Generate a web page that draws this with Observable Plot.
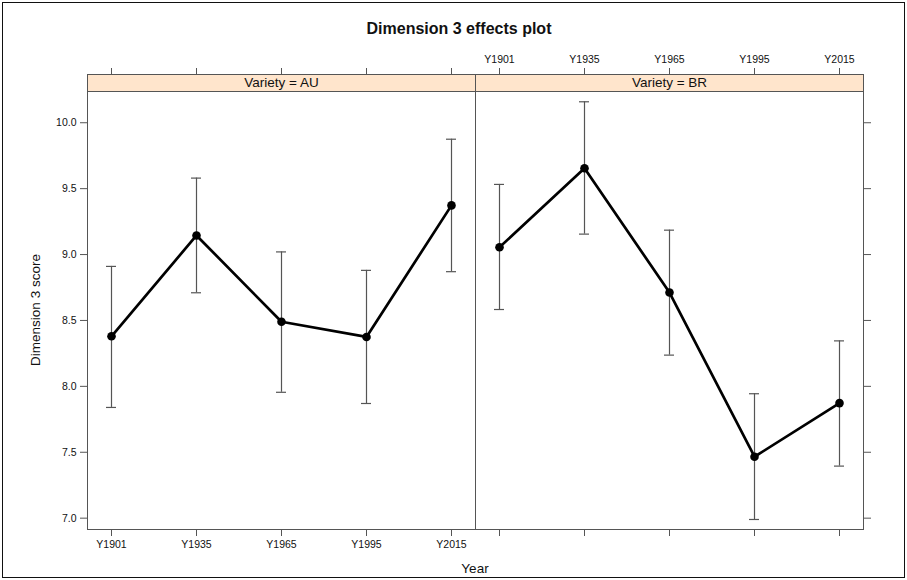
<!DOCTYPE html>
<html>
<head>
<meta charset="utf-8">
<script src="https://cdn.jsdelivr.net/npm/d3@7"></script>
<script src="https://cdn.jsdelivr.net/npm/@observablehq/plot@0.6"></script>
<style>
  html, body { margin: 0; padding: 0; background: white; }
  #wrap { position: relative; width: 907px; height: 580px; font-family: "Liberation Sans", Arial, sans-serif; color: #111; overflow: hidden; }
  #wrap svg { position: absolute; left: 0; top: 0; }
  #border { position: absolute; left: 2px; top: 2px; width: 903px; height: 576px; box-sizing: border-box; border: 1.5px solid #111; pointer-events: none; }
  .title { position: absolute; left: 0; width: 918px; top: 20px; text-align: center; font-weight: bold; font-size: 16px; }
  .xlab { position: absolute; left: 375px; width: 200px; top: 561px; text-align: center; font-size: 13.5px; }
  .ylab { position: absolute; left: 35px; top: 310px; transform: translate(-50%, -50%) rotate(-90deg); white-space: nowrap; font-size: 13.5px; }
</style>
</head>
<body>
<div id="wrap">
  <div class="title">Dimension 3 effects plot</div>
  <div class="xlab">Year</div>
  <div class="ylab">Dimension 3 score</div>
  <div id="border"></div>
</div>
<script>
// ---- data ----
const varieties = ["AU", "BR"];
const years = ["Y1901", "Y1935", "Y1965", "Y1995", "Y2015"];
const fitAU   = [8.38, 9.145, 8.49, 8.375, 9.373];
const lowerAU = [7.84, 8.71, 7.955, 7.87, 8.87];
const upperAU = [8.91, 9.58, 9.02, 8.88, 9.875];
const fitBR   = [9.055, 9.655, 8.712, 7.466, 7.873];
const lowerBR = [8.583, 9.155, 8.237, 6.99, 7.395];
const upperBR = [9.532, 10.159, 9.185, 7.944, 8.345];
const yTicks = [7.0, 7.5, 8.0, 8.5, 9.0, 9.5, 10.0];
const yDomain = [6.914, 10.237];

const series = {AU: {fit: fitAU, lower: lowerAU, upper: upperAU},
                BR: {fit: fitBR, lower: lowerBR, upper: upperBR}};
const data = varieties.flatMap(v => years.map((y, i) => ({
  variety: v, year: y, fit: series[v].fit[i], lower: series[v].lower[i], upper: series[v].upper[i]
})));

// ---- layout ----
const W = 907, H = 580;
const mTop = 91, mBottom = 51, mLeft = 87, mRight = 44;
const panelH = H - mTop - mBottom;
const stripH = 17;
const gray = "#555";
const fs = 10.5;

const chart = Plot.plot({
  width: W, height: H,
  marginTop: mTop, marginBottom: mBottom, marginLeft: mLeft, marginRight: mRight,
  style: {fontFamily: "Liberation Sans, Arial, sans-serif", fontSize: fs + "px", color: "#111", background: "transparent"},
  fx: {domain: varieties, padding: 0, axis: null},
  x: {domain: years, type: "band", paddingInner: 0.883, paddingOuter: 0.2105, axis: null},
  y: {domain: yDomain, axis: null},
  marks: [
    Plot.frame({stroke: gray}),
    Plot.frame({fill: "#ffe5cc", stroke: gray, insetTop: -stripH, insetBottom: panelH}),
    Plot.text(varieties, {fx: d => d, text: d => `Variety = ${d}`, frameAnchor: "top", lineAnchor: "middle", dy: -stripH / 2, fontSize: 13.5, fill: "#111"}),
    // axes
    Plot.axisY(yTicks, {anchor: "left", facetAnchor: "left", tickSize: 7, tickPadding: 4, tickFormat: d3.format(".1f"), stroke: gray, label: null}),
    Plot.axisY(yTicks, {anchor: "right", facetAnchor: "right", tickSize: 7, tickFormat: () => "", stroke: gray, label: null}),
    Plot.axisX({anchor: "bottom", facetAnchor: "left", tickSize: 7, tickPadding: 4, stroke: gray, label: null}),
    Plot.axisX({anchor: "bottom", facetAnchor: "right", tickSize: 7, tickFormat: () => "", stroke: gray, label: null}),
    Plot.axisX({anchor: "top", facetAnchor: "right", dy: -stripH, tickSize: 7, tickPadding: 5, stroke: gray, label: null}),
    Plot.axisX({anchor: "top", facetAnchor: "left", dy: -stripH, tickSize: 7, tickFormat: () => "", stroke: gray, label: null}),
    // error bars
    Plot.ruleX(data, {fx: "variety", x: "year", y1: "lower", y2: "upper", stroke: gray, strokeWidth: 1.2}),
    Plot.tickY(data, {fx: "variety", x: "year", y: "upper", stroke: gray, strokeWidth: 1.2}),
    Plot.tickY(data, {fx: "variety", x: "year", y: "lower", stroke: gray, strokeWidth: 1.2}),
    // effect line
    Plot.line(data, {fx: "variety", x: "year", y: "fit", stroke: "black", strokeWidth: 2.7}),
    Plot.dot(data, {fx: "variety", x: "year", y: "fit", r: 4.3, fill: "black", stroke: "none"})
  ]
});
document.getElementById("wrap").insertBefore(chart, document.getElementById("border"));
</script>
</body>
</html>
